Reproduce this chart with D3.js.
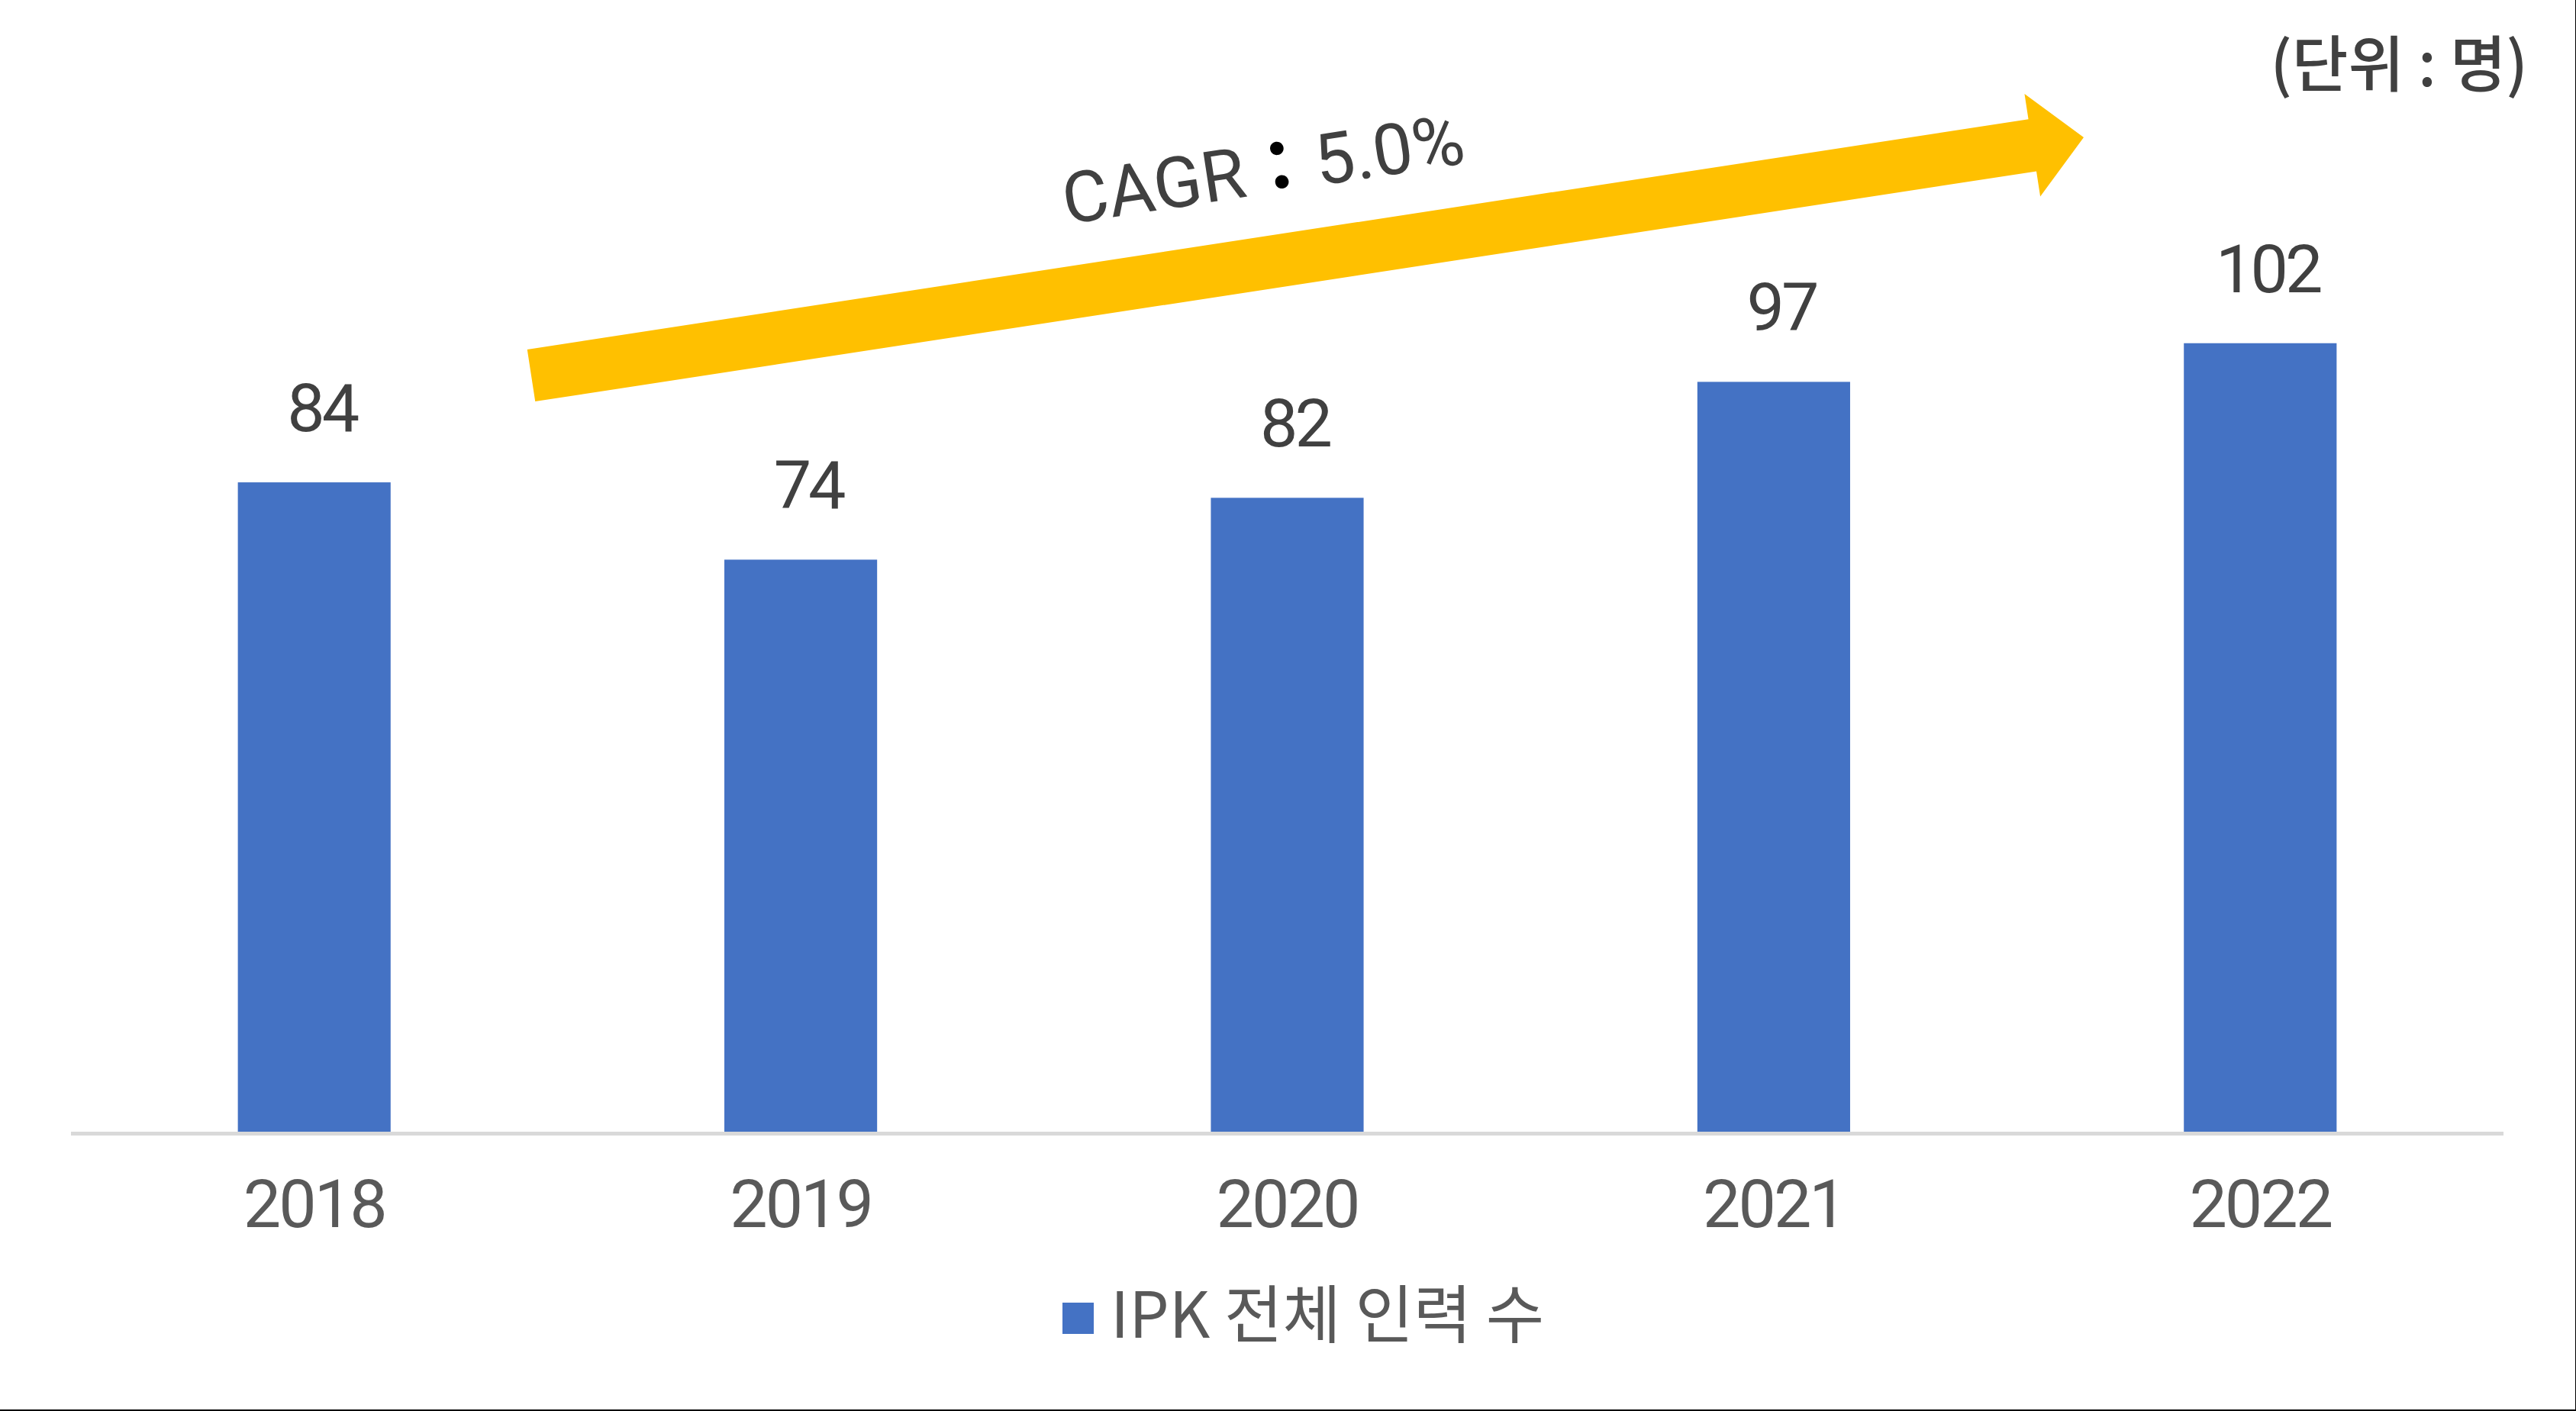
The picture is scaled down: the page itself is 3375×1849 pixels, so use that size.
<!DOCTYPE html>
<html>
<head>
<meta charset="utf-8">
<script src="https://cdn.jsdelivr.net/npm/d3@7"></script>
<style>
  html, body { margin: 0; padding: 0; background: #fff; }
  svg { display: block; }
  text { font-family: Roboto, "Noto Sans CJK KR", "Noto Sans", sans-serif; }
</style>
</head>
<body>
<script>
// ---- data ----
const categories = ["2018", "2019", "2020", "2021", "2022"];
const values = [84, 74, 82, 97, 102];
const seriesName = "IPK 전체 인력 수";
const unitLabel = "(단위 : 명)";
const cagrLabel = ["CAGR", "：", "5.0%"];

// ---- layout ----
const W = 3375, H = 1849;
const svg = d3.select("body").append("svg").attr("width", W).attr("height", H);
svg.append("rect").attr("width", W).attr("height", H).attr("fill", "#fff");

const x = d3.scaleBand().domain(categories).range([93, 3280])
  .paddingInner(0.686).paddingOuter(0.343);
const y = d3.scaleLinear().domain([0, 120]).range([1483, 1483 - 10.13 * 120]);

// bars
svg.append("g").selectAll("rect").data(values).join("rect")
  .attr("x", (d, i) => x(categories[i]))
  .attr("y", d => y(d))
  .attr("width", x.bandwidth())
  .attr("height", d => y(0) - y(d))
  .attr("fill", "#4472C4");

// category axis line
svg.append("line")
  .attr("x1", 93).attr("x2", 3280)
  .attr("y1", y(0) + 2.5).attr("y2", y(0) + 2.5)
  .attr("stroke", "#D9D9D9").attr("stroke-width", 5);

// axis tick labels
const xAxis = d3.axisBottom(x).tickSize(0).tickPadding(0);
const gx = svg.append("g").attr("transform", `translate(0,${y(0)})`).call(xAxis);
gx.select(".domain").remove();
gx.selectAll("text")
  .attr("y", 125)
  .attr("dy", 0)
  .attr("font-size", 88)
  .attr("letter-spacing", -3)
  .attr("fill", "#595959")
  .style("font-family", 'Roboto, "Noto Sans CJK KR", sans-serif');

// data labels
svg.append("g").selectAll("text").data(values).join("text")
  .attr("x", (d, i) => x(categories[i]) + x.bandwidth() / 2 + 10)
  .attr("y", d => y(d) - 67)
  .attr("text-anchor", "middle")
  .attr("font-size", 88)
  .attr("letter-spacing", -4)
  .attr("fill", "#404040")
  .text(d => d);

// legend
const lg = svg.append("g");
lg.append("rect").attr("x", 1392).attr("y", 1707).attr("width", 41).attr("height", 41).attr("fill", "#4472C4");
lg.append("text").attr("x", 1455).attr("y", 1753)
  .attr("font-size", 83).attr("fill", "#595959")
  .style("font-family", '"Noto Sans CJK KR", Roboto, sans-serif')
  .text(seriesName);

// unit label
svg.append("text").attr("x", 3312).attr("y", 113)
  .attr("text-anchor", "end")
  .attr("font-size", 80).attr("fill", "#404040")
  .style("font-family", '"Noto Sans CJK KR", sans-serif')
  .attr("font-weight", 500)
  .text(unitLabel);

// CAGR arrow (annotation)
const ang = Math.atan2(312, 2034) * 180 / Math.PI;
const L = Math.hypot(2034, 312), sh = 34.5, hw = 68, hl = 68;
const arrowPts = [[0, -sh], [L - hl, -sh], [L - hl, -hw], [L, 0], [L - hl, hw], [L - hl, sh], [0, sh]];
svg.append("polygon")
  .attr("points", arrowPts.map(p => p.join(",")).join(" "))
  .attr("transform", `translate(696,492) rotate(${-ang})`)
  .attr("fill", "#FFC000");

const ct = svg.append("text")
  .attr("transform", `translate(1397,294) rotate(${-ang})`)
  .attr("font-size", 93).attr("fill", "#404040");
ct.append("tspan").text(cagrLabel[0]);
ct.append("tspan").attr("fill", "#000").attr("font-weight", 700)
  .style("font-family", '"Noto Sans CJK KR", sans-serif').text(cagrLabel[1]);
ct.append("tspan").text(cagrLabel[2]);

// frame border (right & bottom)
svg.append("line").attr("x1", W - 0.5).attr("x2", W - 0.5).attr("y1", 0).attr("y2", H).attr("stroke", "#000").attr("stroke-width", 1);
svg.append("line").attr("x1", 0).attr("x2", W).attr("y1", H - 1).attr("y2", H - 1).attr("stroke", "#000").attr("stroke-width", 2);
</script>
</body>
</html>
